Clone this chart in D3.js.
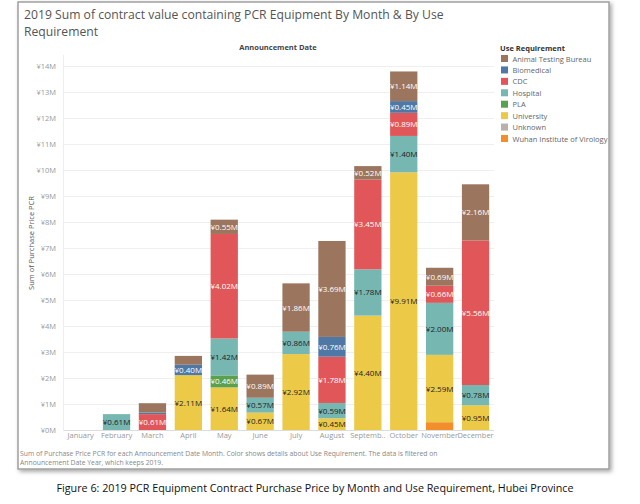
<!DOCTYPE html>
<html><head><meta charset="utf-8">
<script src="https://cdn.jsdelivr.net/npm/d3@7"></script>
<style>
html,body{margin:0;padding:0;background:#fff;}
svg{display:block;}
text{font-family:"Open Sans","Noto Sans",sans-serif;}
</style></head>
<body>
<svg id="c" width="640" height="504"></svg>
<script>
// ---------- data ----------
const months = ["January","February","March","April","May","June","July","August","September","October","November","December"];
const monthLabels = ["January","February","March","April","May","June","July","August","Septemb..","October","November","December"];
const categories = ["Animal Testing Bureau","Biomedical","CDC","Hospital","PLA","University","Unknown","Wuhan Institute of Virology"];
const colors = ["#9c755f","#4e79a7","#e15759","#76b7b2","#59a14f","#edc948","#bab0ac","#f28e2b"];
// values in ¥M per month
const animal     = [0, 0,    0.36, 0.34, 0.55, 0.89, 1.86, 3.69, 0.52, 1.14, 0.69, 2.16];
const biomedical = [0, 0,    0.06, 0.40, 0,    0,    0,    0.76, 0,    0.45, 0,    0];
const cdc        = [0, 0,    0.61, 0,    4.02, 0,    0,    1.78, 3.45, 0.89, 0.66, 5.56];
const hospital   = [0, 0.61, 0,    0,    1.42, 0.57, 0.86, 0.59, 1.78, 1.40, 2.00, 0.78];
const pla        = [0, 0,    0,    0,    0.46, 0,    0,    0,    0,    0,    0,    0];
const university = [0, 0,    0,    2.11, 1.64, 0.67, 2.92, 0.45, 4.40, 9.91, 2.59, 0.95];
const unknown    = [0, 0,    0,    0,    0,    0,    0,    0,    0,    0,    0,    0];
const wuhan      = [0, 0,    0,    0,    0,    0,    0,    0,    0,    0,    0.30, 0];
const yTicks = d3.range(0, 15);

const seriesVals = [animal, biomedical, cdc, hospital, pla, university, unknown, wuhan];
const rows = months.map((m, i) => {
  const r = {month: m};
  categories.forEach((c, k) => r[c] = seriesVals[k][i]);
  return r;
});
// stack bottom->top : Wuhan, Unknown, University, PLA, Hospital, CDC, Biomedical, Animal
const stackKeys = categories.slice().reverse();
const stacked = d3.stack().keys(stackKeys)(rows);
const color = d3.scaleOrdinal().domain(categories).range(colors);
const darkText = new Set(["Hospital","University","Unknown","Wuhan Institute of Virology"]);

const svg = d3.select("#c");

// card with shadow
const defs = svg.append("defs");
const f = defs.append("filter").attr("id","sh").attr("x","-5%").attr("y","-5%").attr("width","110%").attr("height","110%");
f.append("feDropShadow").attr("dx",2).attr("dy",2).attr("stdDeviation",2).attr("flood-color","#000").attr("flood-opacity",0.35);
svg.append("rect").attr("x",18).attr("y",2).attr("width",591).attr("height",467)
  .attr("fill","#fff").attr("stroke","#a0a0a0").attr("stroke-width",1.5).attr("filter","url(#sh)");

function fitText(sel, target){
  const n = sel.node(); const w = n.getComputedTextLength();
  const fs = parseFloat(sel.attr("font-size"));
  sel.attr("font-size", fs * target / w);
}

// title
const t1 = svg.append("text").attr("x",24).attr("y",19).attr("font-size",15).attr("fill","#555")
  .text("2019 Sum of contract value containing PCR Equipment By Month & By Use");
fitText(t1, 420);
const t2 = svg.append("text").attr("x",24).attr("y",36).attr("font-size",t1.attr("font-size")).attr("fill","#555")
  .text("Requirement");

// scales
const x = d3.scaleBand().domain(months).range([62.7, 493.5]).paddingInner(0.24).paddingOuter(0.12);
const y = d3.scaleLinear().domain([0, 14.4]).range([430, 55.6]);

// gridlines
svg.append("g").selectAll("line").data(yTicks).join("line")
  .attr("x1",63).attr("x2",494).attr("y1",d=>y(d)+0.5).attr("y2",d=>y(d)+0.5)
  .attr("stroke",d=>d===0?"#ddd":"#efefef").attr("stroke-width",1);
svg.append("line").attr("x1",63.5).attr("x2",63.5).attr("y1",55).attr("y2",431).attr("stroke","#eee");

// y axis
const yAxis = d3.axisLeft(y).tickValues(yTicks).tickSize(0).tickPadding(4).tickFormat(d=>"¥"+d+"M");
const ya = svg.append("g").attr("transform","translate(60,0)").call(yAxis);
ya.select(".domain").remove();
ya.selectAll("text").attr("font-size",7.5).attr("fill","#999").attr("font-family","Open Sans");

// x axis
const xAxis = d3.axisBottom(x).tickSize(0).tickPadding(3).tickFormat((d,i)=>monthLabels[i]);
const xa = svg.append("g").attr("transform","translate(0,430)").call(xAxis);
xa.select(".domain").remove();
xa.selectAll("text").attr("font-size",7.5).attr("fill","#999").attr("font-family","Open Sans");

// axis titles
svg.append("text").attr("x",278).attr("y",50).attr("text-anchor","middle").attr("font-size",7.5)
  .attr("font-weight","bold").attr("fill","#444").text("Announcement Date");
svg.append("text").attr("transform","translate(34,243) rotate(-90)").attr("text-anchor","middle")
  .attr("font-size",7.5).attr("fill","#555").text("Sum of Purchase Price PCR");

// bars
const g = svg.append("g");
stacked.forEach(layer => {
  const key = layer.key;
  g.append("g").selectAll("rect").data(layer.filter(d=>d[1]-d[0]>0)).join("rect")
    .attr("x", d=>x(d.data.month)).attr("width", x.bandwidth())
    .attr("y", d=>y(d[1])).attr("height", d=>y(d[0])-y(d[1]))
    .attr("fill", color(key));
});
stacked.forEach(layer => {
  const key = layer.key;
  g.append("g").selectAll("text").data(layer.filter(d=>d[1]-d[0]>=0.38)).join("text")
    .attr("x", d=>x(d.data.month)+x.bandwidth()/2)
    .attr("y", d=>(y(d[0])+y(d[1]))/2+3)
    .attr("text-anchor","middle").attr("font-size",8)
    .attr("fill", darkText.has(key)?"#222":"#fff")
    .text(d=>"¥"+(d[1]-d[0]).toFixed(2)+"M");
});

// legend
svg.append("text").attr("x",500).attr("y",51).attr("font-size",7.5).attr("font-weight","bold")
  .attr("fill","#333").text("Use Requirement");
const lg = svg.append("g").selectAll("g").data(categories).join("g")
  .attr("transform",(d,i)=>`translate(501,${55+i*11.43})`);
lg.append("rect").attr("width",7).attr("height",7).attr("fill",d=>color(d));
lg.append("text").attr("x",11.5).attr("y",6.5).attr("font-size",7.5).attr("fill","#666").text(d=>d);

// footer note
svg.append("text").attr("x",20).attr("y",456).attr("font-size",6.8).attr("fill","#888")
  .text("Sum of Purchase Price PCR for each Announcement Date Month.  Color shows details about Use Requirement. The data is filtered on");
svg.append("text").attr("x",20).attr("y",465).attr("font-size",6.8).attr("fill","#888")
  .text("Announcement Date Year, which keeps 2019.");

// caption
const cap = svg.append("text").attr("x",315).attr("y",492).attr("text-anchor","middle").attr("font-size",12)
  .attr("fill","#111").attr("font-family","Liberation Sans Narrow, Liberation Sans, sans-serif")
  .text("Figure 6: 2019 PCR Equipment Contract Purchase Price by Month and Use Requirement, Hubei Province");
fitText(cap, 518);
</script>
</body></html>
